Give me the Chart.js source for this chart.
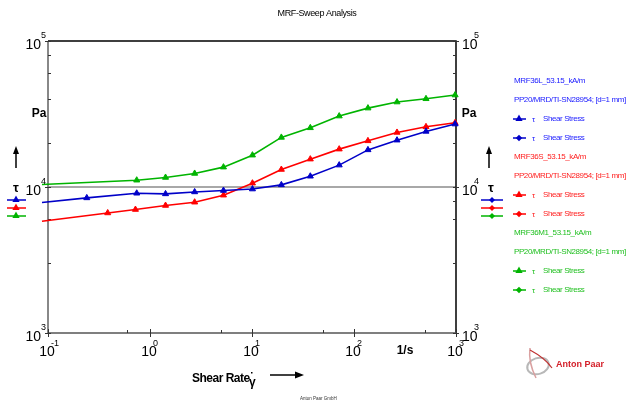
<!DOCTYPE html>
<html>
<head>
<meta charset="utf-8">
<script src="https://cdn.jsdelivr.net/npm/chart.js@4"></script>
<style>
  html, body { margin: 0; padding: 0; background: #fff; }
  #wrap { width: 629px; height: 406px; }
</style>
</head>
<body>
<div id="wrap"><canvas id="myChart" width="629" height="406"></canvas></div>
<script>
// shear rate [1/s] and shear stress [Pa]
var rateL = [0.0873, 0.24, 0.741, 1.42, 2.74, 5.25, 10.1, 19.4, 37.3, 71.6, 137, 264, 508, 980];
var stressL = [7830, 8420, 9060, 8970, 9250, 9460, 9680, 10340, 11850, 14120, 17960, 20930, 24030, 26980];

var rateS = [0.0873, 0.385, 0.72, 1.42, 2.74, 5.25, 10.1, 19.4, 37.3, 71.6, 137, 264, 508, 980];
var stressS = [5820, 6640, 7010, 7470, 7870, 8790, 10620, 13180, 15520, 18170, 20710, 23640, 25840, 27530];

var rateM = [0.0873, 0.741, 1.42, 2.74, 5.25, 10.1, 19.4, 37.3, 71.6, 137, 264, 508, 980];
var stressM = [10400, 11130, 11620, 12380, 13680, 16520, 21860, 25430, 30600, 34700, 38180, 40200, 42650];

var xDecades = [0.1, 1, 10, 100, 1000];
var xExp = ['-1', '0', '1', '2', '3'];
var yDecades = [1000, 10000, 100000];
var yExp = ['3', '4', '5'];

var sampleNames = ['MRF36L_53.15_kA/m', 'MRF36S_53.15_kA/m', 'MRF36M1_53.15_kA/m'];
var geometry = 'PP20/MRD/TI-SN28954; [d=1 mm]';
var blue = '#0000c8', red = '#ff0000', green = '#00b400';
var textCols = ['#2020ff', '#ff2020', '#22c022'];
var FONT = '"Liberation Sans", Arial, sans-serif';

function pairs(xs, ys){
    return xs.map(function(x, i){ return {x: x, y: ys[i]}; });
}

function series(label, xs, ys, col){
    return {
        label: label,
        data: pairs(xs, ys),
        borderColor: col,
        backgroundColor: col,
        borderWidth: 1.6,
        pointStyle: 'triangle',
        pointRadius: function(c){ return c.dataIndex === 0 ? 0 : 3.5; },
        pointBorderWidth: 1,
        showLine: true,
        tension: 0,
        clip: {left: 7, right: 3, top: 3, bottom: 3}
    };
}

function tri(ctx, x, y, r, col){
    ctx.fillStyle = col;
    ctx.beginPath();
    ctx.moveTo(x, y - r);
    ctx.lineTo(x + r * 0.9, y + r * 0.6);
    ctx.lineTo(x - r * 0.9, y + r * 0.6);
    ctx.closePath();
    ctx.fill();
}
function dia(ctx, x, y, r, col){
    ctx.fillStyle = col;
    ctx.beginPath();
    ctx.moveTo(x, y - r);
    ctx.lineTo(x + r, y);
    ctx.lineTo(x, y + r);
    ctx.lineTo(x - r, y);
    ctx.closePath();
    ctx.fill();
}
function upArrow(ctx, x, y1, y2){
    ctx.strokeStyle = '#000';
    ctx.lineWidth = 1.5;
    ctx.beginPath(); ctx.moveTo(x, y2); ctx.lineTo(x, y1 + 6); ctx.stroke();
    ctx.fillStyle = '#000';
    ctx.beginPath(); ctx.moveTo(x, y1); ctx.lineTo(x + 3, y1 + 8); ctx.lineTo(x - 3, y1 + 8); ctx.closePath(); ctx.fill();
}

var axesPlugin = {
    id: 'axesPlugin',
    beforeDatasetsDraw: function(chart){
        var ctx = chart.ctx, a = chart.chartArea;
        var xs = chart.scales.x, ys = chart.scales.y;
        ctx.save();
        // 10^4 grid line
        var gy = ys.getPixelForValue(10000);
        ctx.strokeStyle = '#a8a8a8'; ctx.lineWidth = 2;
        ctx.beginPath(); ctx.moveTo(a.left, gy); ctx.lineTo(a.right, gy); ctx.stroke();
        // frame
        ctx.lineWidth = 1.5; ctx.strokeStyle = '#000';
        ctx.beginPath(); ctx.moveTo(a.left, a.top); ctx.lineTo(a.right, a.top); ctx.lineTo(a.right, a.bottom); ctx.stroke();
        ctx.strokeStyle = '#555';
        ctx.beginPath(); ctx.moveTo(a.left, a.bottom); ctx.lineTo(a.right, a.bottom); ctx.stroke();
        ctx.strokeStyle = '#888'; ctx.lineWidth = 2;
        ctx.beginPath(); ctx.moveTo(a.left, a.top); ctx.lineTo(a.left, a.bottom); ctx.stroke();
        // ticks
        ctx.lineWidth = 1; ctx.strokeStyle = '#333';
        xs.ticks.forEach(function(t){
            var px = Math.round(xs.getPixelForValue(t.value)) + 0.5;
            var major = Math.abs(Math.log10(t.value) - Math.round(Math.log10(t.value))) < 1e-6;
            ctx.beginPath();
            ctx.moveTo(px, major ? a.bottom - 4 : a.bottom - 3);
            ctx.lineTo(px, major ? a.bottom + 4 : a.bottom);
            ctx.stroke();
        });
        ys.ticks.forEach(function(t){
            var py = Math.round(ys.getPixelForValue(t.value)) + 0.5;
            var major = Math.abs(Math.log10(t.value) - Math.round(Math.log10(t.value))) < 1e-6;
            ctx.beginPath();
            ctx.moveTo(major ? a.left - 3 : a.left, py); ctx.lineTo(a.left + 3, py);
            ctx.moveTo(a.right - 3, py); ctx.lineTo(major ? a.right + 3 : a.right, py);
            ctx.stroke();
        });
        ctx.restore();
    },
    afterDraw: function(chart){
        var ctx = chart.ctx, a = chart.chartArea;
        var xs = chart.scales.x, ys = chart.scales.y;
        ctx.save();
        ctx.fillStyle = '#000';
        ctx.textBaseline = 'middle';
        // y decade labels both sides
        yDecades.forEach(function(v, i){
            var py = ys.getPixelForValue(v);
            ctx.font = '14px ' + FONT;
            ctx.textAlign = 'right'; ctx.fillText('10', a.left - 7, py + 4);
            ctx.textAlign = 'left'; ctx.fillText('10', a.right + 6, py + 4);
            ctx.font = '9px ' + FONT;
            ctx.fillText(yExp[i], a.left - 7, py - 5);
            ctx.fillText(yExp[i], a.right + 18, py - 5);
        });
        // x decade labels
        xDecades.forEach(function(v, i){
            var px = xs.getPixelForValue(v);
            ctx.font = '14px ' + FONT;
            ctx.textAlign = 'center'; ctx.fillText('10', px - 1, a.bottom + 19);
            ctx.font = '9px ' + FONT;
            ctx.textAlign = 'left'; ctx.fillText(xExp[i], px + 3, a.bottom + 11);
        });
        ctx.font = 'bold 12px ' + FONT;
        ctx.textAlign = 'center';
        ctx.fillText('1/s', 405, a.bottom + 18);
        ctx.fillText('Pa', 39, 114);
        ctx.fillText('Pa', 469, 114);
        ctx.font = 'bold 13px ' + FONT;
        ctx.fillText('\u03c4', 16, 188);
        ctx.fillText('\u03c4', 491, 188);
        upArrow(ctx, 16, 146, 168);
        upArrow(ctx, 489, 146, 168);

        // small legends beside axes
        var cols = [blue, red, green];
        cols.forEach(function(c, i){
            var y = 200 + i * 8;
            ctx.strokeStyle = c; ctx.lineWidth = 1.5;
            ctx.beginPath(); ctx.moveTo(7, y); ctx.lineTo(26, y); ctx.stroke();
            tri(ctx, 16, y - 0.5, 4, c);
            ctx.beginPath(); ctx.moveTo(481, y); ctx.lineTo(503, y); ctx.stroke();
            dia(ctx, 492, y, 3, c);
        });

        // title
        ctx.fillStyle = '#000';
        ctx.font = '9px ' + FONT;
        ctx.letterSpacing = '-0.4px';
        ctx.fillText('MRF-Sweep Analysis', 317, 14);

        // right legend
        ctx.textAlign = 'left';
        ctx.font = '8px ' + FONT;
        sampleNames.forEach(function(name, i){
            var y0 = 81 + i * 76;
            var col = textCols[i];
            ctx.fillStyle = col;
            ctx.fillText(name, 514, y0);
            ctx.fillText(geometry, 514, y0 + 19);
            [38, 57].forEach(function(dy, k){
                var y = y0 + dy;
                ctx.strokeStyle = cols[i]; ctx.lineWidth = 1.5;
                ctx.beginPath(); ctx.moveTo(513, y); ctx.lineTo(526, y); ctx.stroke();
                if (k === 0) tri(ctx, 519, y - 0.5, 4, cols[i]); else dia(ctx, 519, y, 3.2, cols[i]);
                ctx.fillStyle = col;
                ctx.fillText('\u03c4', 532, y + 1);
                ctx.fillText('Shear Stress', 543, y);
            });
        });
        ctx.letterSpacing = '0px';

        // x axis title
        ctx.fillStyle = '#000';
        ctx.font = 'bold 12px ' + FONT;
        ctx.letterSpacing = '-0.5px';
        ctx.fillText('Shear Rate', 192, 379);
        ctx.letterSpacing = '0px';
        ctx.fillText('\u03b3', 249, 383);
        ctx.fillRect(251, 372, 1.5, 1.5);
        ctx.strokeStyle = '#000'; ctx.lineWidth = 1.5;
        ctx.beginPath(); ctx.moveTo(270, 375); ctx.lineTo(297, 375); ctx.stroke();
        ctx.beginPath(); ctx.moveTo(304, 375); ctx.lineTo(295, 371.5); ctx.lineTo(295, 378.5); ctx.closePath(); ctx.fill();

        // footer
        ctx.font = '4.5px ' + FONT;
        ctx.fillStyle = '#333';
        ctx.fillText('Anton Paar GmbH', 300, 399);

        // logo
        ctx.strokeStyle = '#b8b8b8'; ctx.lineWidth = 2;
        ctx.beginPath(); ctx.ellipse(538, 366, 11, 8, -0.3, 0, Math.PI * 2); ctx.stroke();
        ctx.strokeStyle = '#d9a0a0'; ctx.lineWidth = 1.5;
        ctx.beginPath(); ctx.moveTo(530, 348); ctx.quadraticCurveTo(528, 362, 536, 378); ctx.stroke();
        ctx.strokeStyle = '#c03030'; ctx.lineWidth = 1.2;
        ctx.beginPath(); ctx.moveTo(530, 350); ctx.quadraticCurveTo(545, 358, 552, 368); ctx.stroke();
        ctx.fillStyle = '#d4202a';
        ctx.font = 'bold 9px ' + FONT;
        ctx.fillText('Anton Paar', 556, 365);
        ctx.restore();
    }
};

var ctx = document.getElementById('myChart').getContext('2d');
var myChart = new Chart(ctx, {
    type: 'scatter',
    data: {
        datasets: [
            series(sampleNames[0], rateL, stressL, blue),
            series(sampleNames[1], rateS, stressS, red),
            series(sampleNames[2], rateM, stressM, green)
        ]
    },
    options: {
        responsive: false,
        animation: false,
        devicePixelRatio: 1,
        layout: { padding: { left: 48, right: 173, top: 41, bottom: 73 } },
        plugins: { legend: { display: false }, tooltip: { enabled: false }, title: { display: false } },
        scales: {
            x: { type: 'logarithmic', min: 0.1, max: 1000, display: false },
            y: { type: 'logarithmic', min: 1000, max: 100000, display: false }
        }
    },
    plugins: [axesPlugin]
});
</script>
</body>
</html>
